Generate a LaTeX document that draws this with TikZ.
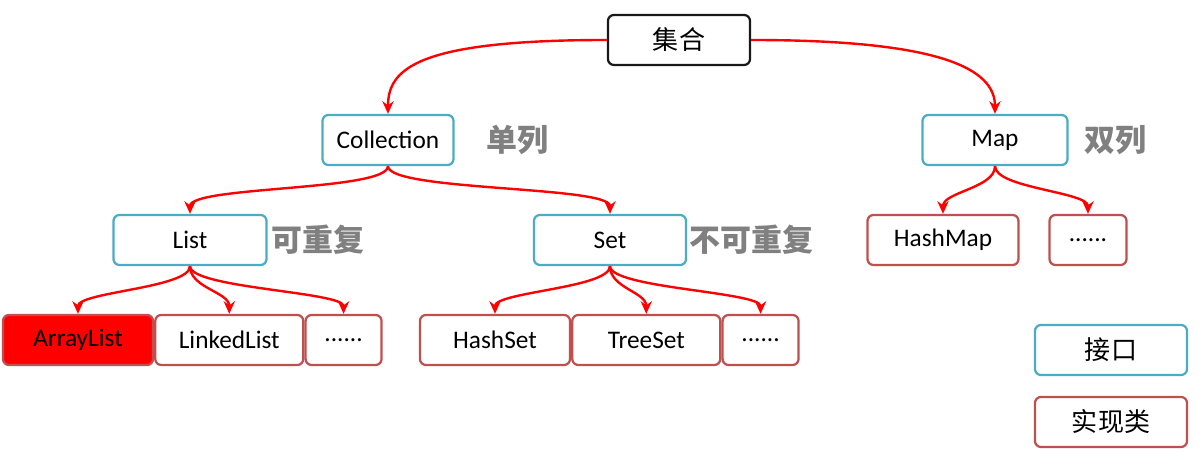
\documentclass[tikz,border=0pt]{standalone}
\usepackage{fontspec}
\setmainfont{Carlito}
\newfontfamily\cjk{Noto Sans CJK SC}
\usetikzlibrary{positioning,arrows.meta}
\definecolor{ifaceblue}{HTML}{4BACC6}
\definecolor{implred}{HTML}{C0504D}
\definecolor{notegray}{HTML}{808080}
\tikzset{
  box/.style={draw, rounded corners=0.15cm, line width=1.6pt, minimum height=1.25cm, minimum width=3.75cm, inner sep=0pt, fill=white, font=\fontsize{18}{22}\selectfont},
  iface/.style={box, draw=ifaceblue},
  impl/.style={box, draw=implred},
  cjkbox/.style={font=\cjk\fontsize{18.5}{22}\selectfont},
  note/.style={font=\cjk\bfseries\fontsize{22}{26}\selectfont, text=notegray, anchor=west, inner sep=0pt},
  link/.style={-{Stealth[length=9pt,width=8pt]}, draw=red, line width=1.7pt},
}
\begin{document}
\begin{tikzpicture}[x=0.025cm, y=-0.025cm]
    \useasboundingbox (0,0) rectangle (1199,457);

    % top level
    \node [box, cjkbox, draw=black!90, minimum width=3.55cm] (coll_root) at (679,40) {集合};

    % interfaces
    \node [iface, minimum width=3.275cm] (collection) at (388,140) {Collection};
    \node [iface, minimum width=3.625cm] (map) at (995,140) {Map};
    \node [iface, minimum width=3.825cm] (list) at (190,240) {List};
    \node [iface, minimum width=3.8cm] (set) at (610,240) {Set};

    \node [note, right=0.8cm of collection] {单列};
    \node [note, right=0.4cm of map] {双列};
    \node [note, right=0.1cm of list] {可重复};
    \node [note, right=0.05cm of set] {不可重复};

    % implementations
    \node [impl, fill=red] (arraylist) at (78,340) {ArrayList};
    \node [impl, minimum width=3.7cm, right=0cm of arraylist] (linkedlist) {LinkedList};
    \node [impl, minimum width=1.9cm, right=0cm of linkedlist] (list_more) {......};

    \node [impl] (hashset) at (495,340) {HashSet};
    \node [impl, minimum width=3.7cm, right=0cm of hashset] (treeset) {TreeSet};
    \node [impl, minimum width=1.9cm, right=0cm of treeset] (set_more) {......};

    \node [impl, minimum width=3.775cm] (hashmap) at (943,240) {HashMap};
    \node [impl, minimum width=1.925cm] (map_more) at (1088,240) {......};

    % legend
    \node [iface, cjkbox, minimum width=3.8cm] (legend_iface) at (1111,350) {接口};
    \node [impl, cjkbox, minimum width=3.8cm] (legend_impl) at (1111,422) {实现类};

    % connectors
    \draw [link] (coll_root.west) .. controls +(-190,0) and +(0,-45) .. (collection.north);
    \draw [link] (coll_root.east) .. controls +(190,0) and +(0,-45) .. (map.north);

    \draw [link] (collection.south) .. controls +(0,25) and +(0,-28) .. (list.north);
    \draw [link] (collection.south) .. controls +(0,25) and +(0,-28) .. (set.north);

    \draw [link] (list.south) .. controls +(0,22) and +(0,-22) .. (arraylist.north);
    \draw [link] (list.south) .. controls +(0,22) and +(0,-22) .. (linkedlist.north);
    \draw [link] (list.south) .. controls +(0,22) and +(0,-22) .. (list_more.north);

    \draw [link] (set.south) .. controls +(0,22) and +(0,-22) .. (hashset.north);
    \draw [link] (set.south) .. controls +(0,22) and +(0,-22) .. (treeset.north);
    \draw [link] (set.south) .. controls +(0,22) and +(0,-22) .. (set_more.north);

    \draw [link] (map.south) .. controls +(0,22) and +(0,-22) .. (hashmap.north);
    \draw [link] (map.south) .. controls +(0,22) and +(0,-22) .. (map_more.north);
\end{tikzpicture}
\end{document}
